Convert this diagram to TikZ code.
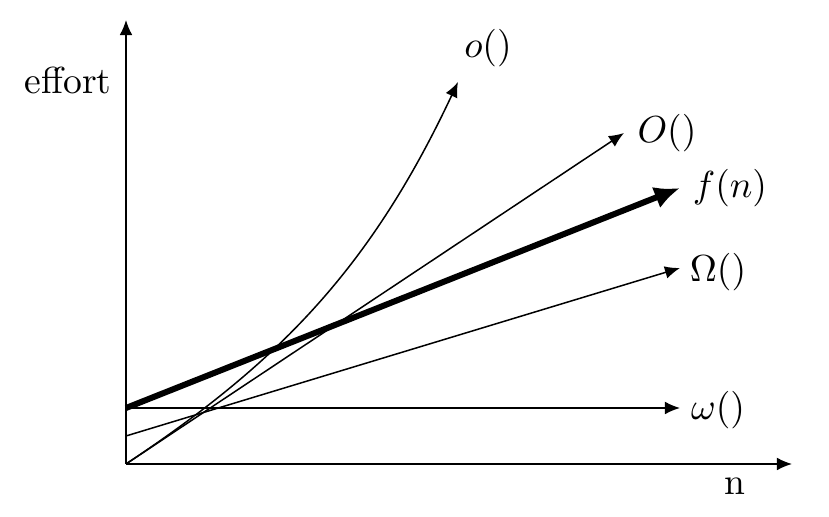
\documentclass[tikz,border=0pt]{standalone}
\usetikzlibrary{arrows.meta}
\begin{document}
\begin{tikzpicture}[x=0.266pt,y=0.266pt,
  arr/.style={-{Latex[length=4pt,width=3.4pt]}, line width=0.4pt},
  lbl/.style={inner sep=0pt}]
\useasboundingbox (0,0) rectangle (829,517);
% axes
\coordinate (O) at (126,53);
\coordinate (ytop) at (126,497);
\coordinate (xend) at (792,53);
\draw[arr] (O) -- (ytop);
\draw[arr] (O) -- (xend);
\node[lbl] (effort) at (68,437) {effort};
\node[lbl] (nlab) at (735,31) {n};
% curves
\coordinate (fs) at (126,109);
\coordinate (fe) at (680,329);
\coordinate (we) at (680,109);
\coordinate (Ws) at (126,81);
\coordinate (We) at (680,249);
\coordinate (Oe) at (624,384);
\coordinate (oc1) at (275.9,152.7);
\coordinate (oc2) at (369.2,245.7);
\coordinate (oe) at (458,435);
\draw[arr] (fs) -- (we);
\draw[arr] (Ws) -- (We);
\draw[arr] (O) -- (Oe);
\draw[arr] (O) .. controls (oc1) and (oc2) .. (oe);
\draw[-{Latex[length=6.8pt,width=6pt]}, line width=1.6pt] (fs) -- (fe);
% labels
\node[lbl] (lo) at (488,469) {$o()$};
\node[lbl] (lO) at (667,384) {$O()$};
\node[lbl] (lf) at (730,329) {$f(n)$};
\node[lbl] (lW) at (718,245) {$\Omega()$};
\node[lbl] (lw) at (718,107) {$\omega()$};
\end{tikzpicture}
\end{document}
